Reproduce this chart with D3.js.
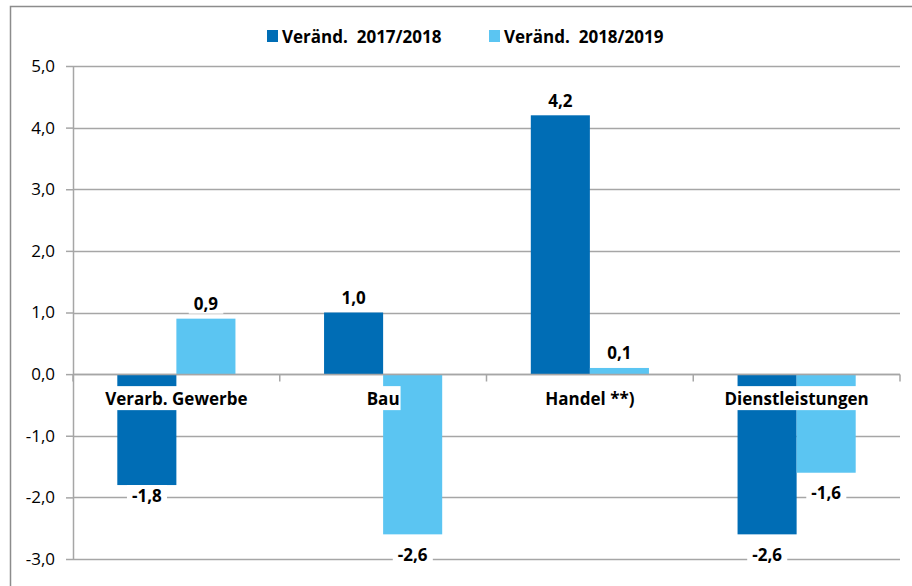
<!DOCTYPE html>
<html>
<head>
<meta charset="utf-8">
<script src="https://cdn.jsdelivr.net/npm/d3@7"></script>
<style>
  body { margin: 0; background: #fff; }
  text { font-family: "Open Sans", sans-serif; }
</style>
</head>
<body>
<div id="chart"></div>
<script>
// data
var categories = ["Verarb. Gewerbe", "Bau", "Handel **)", "Dienstleistungen"];
var seriesNames = ["Veränd.  2017/2018", "Veränd.  2018/2019"];
var values1718 = [-1.8, 1.0, 4.2, -2.6];
var values1819 = [0.9, -2.6, 0.1, -1.6];
var yTicks = [-3, -2, -1, 0, 1, 2, 3, 4, 5];
var colors = ["#006db5", "#5bc5f2"];

var W = 912, H = 586;
var margin = { top: 66, right: 12, bottom: 27, left: 73 };
var width = W - margin.left - margin.right;
var height = H - margin.top - margin.bottom;

var svg = d3.select("#chart").append("svg")
  .attr("width", W)
  .attr("height", H);

// outer frame
svg.append("rect")
  .attr("x", 10.5).attr("y", 6.5)
  .attr("width", W + 10).attr("height", H + 10)
  .attr("fill", "none")
  .attr("stroke", "#8c8c8c")
  .attr("stroke-width", 1.5);

var g = svg.append("g")
  .attr("transform", "translate(" + margin.left + "," + margin.top + ")");

var x0 = d3.scaleBand().domain(categories).range([0, width]).paddingInner(0).paddingOuter(0);
var x1 = d3.scaleBand().domain([0, 1]).range([0, x0.bandwidth()]).paddingInner(0).paddingOuter(0.75);
var y = d3.scaleLinear().domain([-3, 5]).range([height, 0]);

var fmt = function(v) { return v.toFixed(1).replace(".", ","); };

// gridlines
g.append("g").selectAll("line")
  .data(yTicks)
  .enter().append("line")
  .attr("x1", 0).attr("x2", width)
  .attr("y1", function(d) { return Math.round(y(d)) + 0.5; })
  .attr("y2", function(d) { return Math.round(y(d)) + 0.5; })
  .attr("stroke", "#a6a6a6")
  .attr("stroke-width", 1.5);

// y axis
var yAxis = g.append("g")
  .call(d3.axisLeft(y).tickValues(yTicks).tickSize(7).tickSizeOuter(0).tickFormat(fmt));
yAxis.select(".domain").attr("stroke", "#a6a6a6").attr("stroke-width", 1.5);
yAxis.selectAll(".tick line").attr("stroke", "#a6a6a6").attr("stroke-width", 1.5);
yAxis.selectAll(".tick text")
  .attr("x", -18)
  .style("font-family", "'Open Sans', sans-serif")
  .style("font-size", "17px")
  .attr("fill", "#000");

// bars
var rows = categories.map(function(c, i) {
  return { cat: c, vals: [values1718[i], values1819[i]] };
});

var groups = g.selectAll(".grp")
  .data(rows)
  .enter().append("g")
  .attr("class", "grp")
  .attr("transform", function(d) { return "translate(" + x0(d.cat) + ",0)"; });

groups.selectAll("rect")
  .data(function(d) { return d.vals.map(function(v, k) { return { k: k, v: v }; }); })
  .enter().append("rect")
  .attr("x", function(d) { return x1(d.k); })
  .attr("width", x1.bandwidth())
  .attr("y", function(d) { return y(Math.max(0, d.v)); })
  .attr("height", function(d) { return Math.abs(y(d.v) - y(0)); })
  .attr("fill", function(d) { return colors[d.k]; });

// x axis on zero line
var xAxis = g.append("g")
  .attr("transform", "translate(0," + (Math.round(y(0)) + 0.5) + ")");
xAxis.append("line")
  .attr("x1", 0).attr("x2", width)
  .attr("stroke", "#a6a6a6").attr("stroke-width", 1.5);
xAxis.selectAll(".xt")
  .data(d3.range(categories.length + 1))
  .enter().append("line")
  .attr("class", "xt")
  .attr("x1", function(i) { return i * x0.bandwidth(); })
  .attr("x2", function(i) { return i * x0.bandwidth(); })
  .attr("y1", 0).attr("y2", 7)
  .attr("stroke", "#a6a6a6").attr("stroke-width", 1.5);

// text with white box behind it
function boxedText(parent, cx, cy, txt, size, padX, padY) {
  var t = parent.append("text")
    .attr("x", cx).attr("y", cy)
    .attr("text-anchor", "middle")
    .attr("dominant-baseline", "central")
    .style("font-size", size + "px")
    .style("font-weight", "bold")
    .attr("fill", "#000")
    .text(txt);
  var bb = t.node().getBBox();
  parent.insert("rect", function() { return t.node(); })
    .attr("x", bb.x - padX).attr("y", cy - 12 - padY)
    .attr("width", bb.width + 2 * padX).attr("height", 24 + 2 * padY)
    .attr("fill", "#fff");
}

// category labels
var catLayer = g.append("g");
categories.forEach(function(c) {
  boxedText(catLayer, x0(c) + x0.bandwidth() / 2, y(0) + 24, c, 17, 1, 0);
});

// data labels (the -1,8 label sits closer to its bar)
var labelLayer = g.append("g");
var belowShift = [[10, 20, 20, 20], [20, 20, 20, 20]];
rows.forEach(function(r, i) {
  r.vals.forEach(function(v, k) {
    var cx = x0(r.cat) + x1(k) + x1.bandwidth() / 2;
    var cy = v >= 0 ? y(v) - 15 : y(v) + belowShift[k][i];
    boxedText(labelLayer, cx, cy, fmt(v), 17, 5, -2);
  });
});

// legend
var legend = svg.append("g").attr("transform", "translate(267,30)");
var legX = [0, 222];
seriesNames.forEach(function(s, k) {
  legend.append("rect")
    .attr("x", legX[k]).attr("y", 0)
    .attr("width", 11).attr("height", 12)
    .attr("fill", colors[k]);
  legend.append("text")
    .attr("x", legX[k] + 15).attr("y", 6)
    .attr("dominant-baseline", "central")
    .style("font-size", "17px")
    .style("font-weight", "bold")
    .attr("fill", "#000")
    .style("white-space", "pre")
    .text(s);
});
</script>
</body>
</html>
